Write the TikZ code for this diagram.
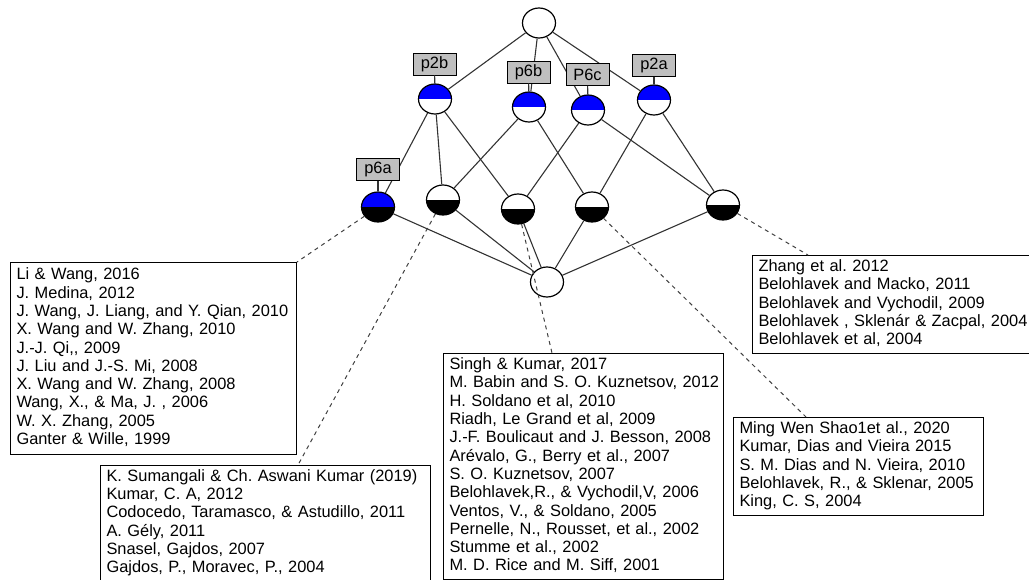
\documentclass[tikz,border=0pt]{standalone}
\usepackage{fontspec}
\setmainfont{Liberation Sans}
\usetikzlibrary{shapes.geometric}
\newcommand{\reflist}[1]{\begin{tabular}{@{}l@{}}#1\end{tabular}}
\begin{document}
\frenchspacing
\begin{tikzpicture}[x=1pt,y=-1pt,
  concept/.style={ellipse, draw=black, line width=1.2pt, fill=white,
    minimum width=33pt, minimum height=30pt, inner sep=0pt},
  ownattr/.style={path picture={\fill[blue] (path picture bounding box.north west) rectangle (path picture bounding box.east);}},
  ownobj/.style={path picture={\fill[black] (path picture bounding box.south west) rectangle (path picture bounding box.east);}},
  ownboth/.style={path picture={%
    \fill[blue] (path picture bounding box.north west) rectangle (path picture bounding box.east);
    \fill[black] (path picture bounding box.south west) rectangle (path picture bounding box.east);}},
  link/.style={draw=black!80, line width=1.1pt},
  leader/.style={draw=black!75, line width=1pt, dash pattern=on 4pt off 4pt},
  tag/.style={draw=black, fill=black!25, line width=0.9pt, minimum width=43pt,
    minimum height=22pt, inner sep=0pt, font=\fontsize{16.4}{18}\selectfont},
  refs/.style={draw=black, line width=1pt, anchor=north west, align=left,
    inner xsep=6pt, font=\fontsize{16.4}{18.3}\selectfont},
]
\useasboundingbox (0,0) rectangle (1029,580);
\clip (0,0) rectangle (1029,580);

% concept lattice
\node[concept] (top) at (539,23) {};
\node[concept, ownattr] (p2b) at (435,99) {};
\node[concept, ownattr] (p6b) at (529,107) {};
\node[concept, ownattr] (p6c) at (588,110) {};
\node[concept, ownattr] (p2a) at (654,100) {};
\node[concept, ownboth] (p6a) at (378,207) {};
\node[concept, ownobj] (n2) at (443,200) {};
\node[concept, ownobj] (n3) at (518,209) {};
\node[concept, ownobj] (n4) at (592,207) {};
\node[concept, ownobj] (n5) at (723,205) {};
\node[concept] (bot) at (547,282) {};

\draw[link] (top) -- (p2b);
\draw[link] (top) -- (p6b);
\draw[link] (top) -- (p6c);
\draw[link] (top) -- (p2a);
\draw[link] (p2b) -- (p6a);
\draw[link] (p2b) -- (n2);
\draw[link] (p2b) -- (n3);
\draw[link] (p6b) -- (n2);
\draw[link] (p6b) -- (n4);
\draw[link] (p6c) -- (n3);
\draw[link] (p6c) -- (n5);
\draw[link] (p2a) -- (n4);
\draw[link] (p2a) -- (n5);
\foreach \n in {p6a,n2,n3,n4,n5} \draw[link] (\n) -- (bot);

% reference lists
\node[refs, minimum height=192pt, text width=274pt] (box1) at (10,262) {\reflist{%
Li \& Wang, 2016\\
J. Medina, 2012\\
J. Wang, J. Liang, and Y. Qian, 2010\\
X. Wang and W. Zhang, 2010\\
J.-J. Qi,{}, 2009\\
J. Liu and J.-S. Mi, 2008\\
X. Wang and W. Zhang, 2008\\
Wang, X., \& Ma, J. , 2006\\
W. X. Zhang, 2005\\
Ganter \& Wille, 1999}};

\node[refs, inner ysep=3pt, text width=318pt] (box2) at (100,465) {\reflist{%
K. Sumangali \& Ch. Aswani Kumar (2019)\\
Kumar, C. A, 2012\\
Codocedo, Taramasco, \& Astudillo, 2011\\
A. Gély, 2011\\
Snasel, Gajdos, 2007\\
Gajdos, P., Moravec, P., 2004\\[6pt]}};

\node[refs, minimum height=225pt, text width=268pt] (box3) at (443,353) {\reflist{%
Singh \& Kumar, 2017\\
M. Babin and S. O. Kuznetsov, 2012\\
H. Soldano et al, 2010\\
Riadh, Le Grand et al, 2009\\
J.-F. Boulicaut and J. Besson, 2008\\
Arévalo, G., Berry et al., 2007\\
S. O. Kuznetsov, 2007\\
Belohlavek,R., \& Vychodil,V, 2006\\
Ventos, V., \& Soldano, 2005\\
Pernelle, N., Rousset, et al., 2002\\
Stumme et al., 2002\\
M. D. Rice and M. Siff, 2001}};

\node[refs, minimum height=97pt, text width=276pt] (box4) at (752,255) {\reflist{%
Zhang et al. 2012\\
Belohlavek and Macko, 2011\\
Belohlavek and Vychodil, 2009\\
Belohlavek , Sklenár \& Zacpal, 2004\\
Belohlavek et al, 2004}};

\node[refs, minimum height=96pt, text width=238pt] (box5) at (733,417) {\reflist{%
Ming Wen Shao1et al., 2020\\
Kumar, Dias and Vieira 2015\\
S. M. Dias and N. Vieira, 2010\\
Belohlavek, R., \& Sklenar, 2005\\
King, C. S, 2004}};

% leaders from concepts to their reference lists
\coordinate (e2) at (298,465);
\coordinate (e3) at (552,353);
\coordinate (e4) at (806,417);
\coordinate (e5) at (808,255);
\draw[leader] (p6a) -- (box1.north east);
\draw[leader] (n2) -- (e2);
\draw[leader] (n3) -- (e3);
\draw[leader] (n4) -- (e4);
\draw[leader] (n5) -- (e5);

% attribute labels
\node[tag] (lp2b) at (434.5,64) {p2b};
\node[tag] (lp6b) at (528.5,72) {p6b};
\node[tag] (lp6c) at (587.5,74.5) {P6c};
\node[tag] (lp2a) at (654,65.5) {p2a};
\node[tag] (lp6a) at (378,169.5) {p6a};
\draw[link] (lp2b) -- (p2b);
\draw[link] (lp6b) -- (p6b);
\draw[link] (lp6c) -- (p6c);
\draw[link] (lp2a) -- (p2a);
\draw[link] (lp6a) -- (p6a);
\end{tikzpicture}
\end{document}
